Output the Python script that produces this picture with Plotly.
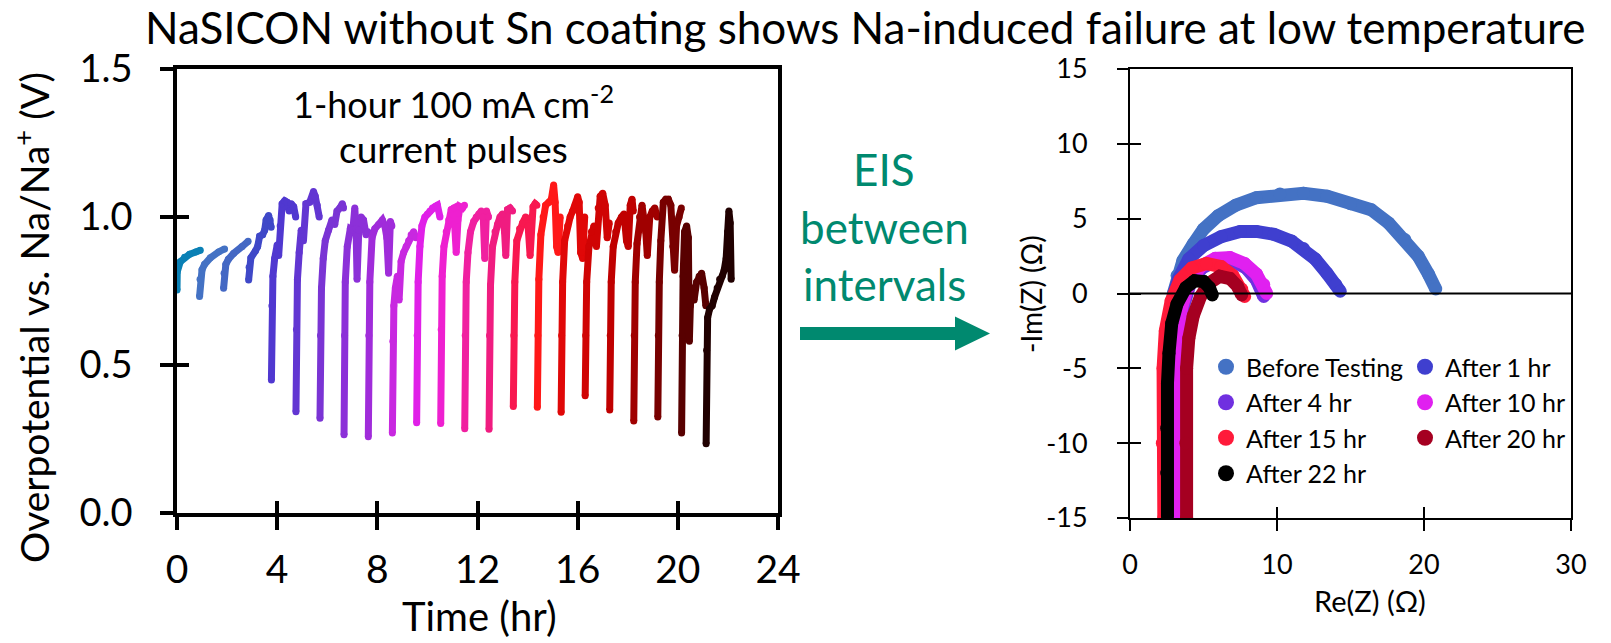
import plotly.graph_objects as go

# ---------------- data: pulsed overpotential (left panel) ----------------
# one list per 1-hour current pulse: time in hours, overpotential in volts
pulse_time = [
    [0.0, 0.01, 0.13, 0.3, 0.5, 0.75, 0.93],
    [0.90, 0.92, 1.0, 1.1, 1.33, 1.66, 1.90],
    [1.86, 1.88, 1.95, 2.05, 2.26, 2.6, 2.84],
    [2.86, 2.88, 2.95, 3.13, 3.22, 3.3, 3.42, 3.5, 3.56, 3.66, 3.72, 3.76],
    [3.77, 3.79, 3.83, 3.9, 4.0, 4.06, 4.12, 4.2, 4.3, 4.4, 4.48, 4.56, 4.66, 4.74],
    [4.75, 4.77, 4.81, 4.88, 4.96, 5.05, 5.15, 5.3, 5.45, 5.52, 5.6, 5.68],
    [5.71, 5.73, 5.77, 5.84, 5.92, 6.05, 6.19, 6.3, 6.39, 6.5, 6.6, 6.65],
    [6.67, 6.69, 6.72, 6.8, 6.92, 7.02, 7.1, 7.15, 7.19, 7.26, 7.35, 7.45, 7.55, 7.62],
    [7.64, 7.66, 7.7, 7.79, 7.9, 8.05, 8.2, 8.3, 8.38, 8.45, 8.52, 8.58],
    [8.60, 8.62, 8.66, 8.72, 8.8, 8.87, 8.95, 9.05, 9.15, 9.25, 9.35, 9.45, 9.54],
    [9.57, 9.59, 9.63, 9.7, 9.78, 9.9, 10.0, 10.1, 10.2, 10.3, 10.4, 10.5],
    [10.53, 10.55, 10.59, 10.66, 10.75, 10.85, 10.95, 11.05, 11.15, 11.22, 11.3, 11.4, 11.48],
    [11.49, 11.51, 11.55, 11.62, 11.72, 11.85, 11.95, 12.05, 12.15, 12.23, 12.29, 12.36, 12.44],
    [12.46, 12.48, 12.52, 12.6, 12.7, 12.8, 12.9, 13.0, 13.08, 13.13, 13.2, 13.3, 13.4],
    [13.43, 13.45, 13.49, 13.57, 13.68, 13.8, 13.92, 14.02, 14.1, 14.15, 14.22, 14.3, 14.37],
    [14.39, 14.41, 14.45, 14.53, 14.62, 14.72, 14.85, 14.95, 15.04, 15.1, 15.16, 15.22, 15.3],
    [15.34, 15.36, 15.4, 15.48, 15.6, 15.7, 15.8, 15.9, 16.0, 16.06, 16.12, 16.2, 16.28],
    [16.30, 16.32, 16.36, 16.45, 16.55, 16.65, 16.75, 16.82, 16.9, 17.0, 17.1, 17.18, 17.26],
    [17.28, 17.30, 17.34, 17.42, 17.52, 17.62, 17.75, 17.85, 17.95, 18.02, 18.1, 18.17, 18.22],
    [18.24, 18.26, 18.3, 18.37, 18.47, 18.57, 18.65, 18.72, 18.78, 18.88, 18.98, 19.08, 19.18],
    [19.20, 19.22, 19.26, 19.32, 19.42, 19.52, 19.62, 19.72, 19.8, 19.87, 19.95, 20.05, 20.14],
    [20.15, 20.17, 20.21, 20.27, 20.35, 20.42, 20.46, 20.5, 20.57, 20.65, 20.75, 20.85, 20.95, 21.05, 21.12],
    [21.13, 21.15, 21.19, 21.27, 21.37, 21.47, 21.57, 21.67, 21.77, 21.85, 21.93, 21.99, 22.04, 22.09, 22.13],
]
pulse_voltage = [
    [0.753, 0.815, 0.849, 0.864, 0.874, 0.882, 0.888],
    [0.731, 0.79, 0.822, 0.84, 0.862, 0.882, 0.892],
    [0.759, 0.81, 0.84, 0.857, 0.877, 0.9, 0.918],
    [0.787, 0.83, 0.862, 0.885, 0.90, 0.935, 0.94, 0.955, 0.99, 1.005, 0.99, 0.965],
    [0.449, 0.70, 0.80, 0.86, 0.905, 0.87, 0.97, 1.045, 1.055, 1.05, 1.02, 1.045, 1.035, 1.0],
    [0.342, 0.62, 0.79, 0.88, 0.955, 0.92, 1.045, 1.05, 1.086, 1.07, 1.04, 1.0],
    [0.32, 0.60, 0.76, 0.86, 0.92, 0.955, 0.99, 0.975, 1.02, 1.03, 1.045, 1.03],
    [0.264, 0.6, 0.78, 0.9, 0.96, 0.955, 1.03, 0.96, 0.79, 0.955, 1.0, 0.99, 0.94, 0.95],
    [0.258, 0.6, 0.78, 0.93, 0.96, 0.975, 0.99, 0.97, 0.93, 0.81, 0.985, 0.97],
    [0.27, 0.58, 0.70, 0.76, 0.80, 0.72, 0.85, 0.88, 0.90, 0.92, 0.94, 0.95, 0.93],
    [0.305, 0.6, 0.78, 0.9, 0.97, 1.0, 1.01, 1.02, 1.03, 1.035, 1.04, 1.0],
    [0.302, 0.62, 0.8, 0.9, 0.95, 0.99, 1.025, 1.03, 0.88, 0.99, 1.035, 1.03, 1.04],
    [0.285, 0.6, 0.78, 0.88, 0.95, 0.985, 1.0, 1.01, 1.02, 1.0, 0.86, 1.02, 1.0],
    [0.283, 0.6, 0.77, 0.9, 0.95, 0.975, 1.0, 1.01, 0.95, 0.87, 1.025, 1.03, 1.02],
    [0.36, 0.6, 0.78, 0.92, 0.96, 0.98, 1.0, 0.97, 0.87, 1.0, 1.035, 1.045, 1.04],
    [0.357, 0.6, 0.79, 0.94, 1.0, 1.04, 1.05, 1.06, 1.108, 1.05, 0.9, 0.88, 1.0],
    [0.34, 0.6, 0.78, 0.92, 0.97, 1.0, 1.02, 1.04, 1.068, 1.05, 0.88, 0.86, 1.0],
    [0.396, 0.6, 0.78, 0.9, 0.95, 0.97, 0.9, 1.03, 1.07, 1.08, 1.04, 0.93, 0.98],
    [0.348, 0.6, 0.78, 0.9, 0.95, 0.98, 1.0, 1.01, 0.92, 0.9, 1.04, 1.06, 1.02],
    [0.311, 0.6, 0.78, 0.91, 1.0, 1.04, 0.99, 0.95, 0.87, 1.0, 1.02, 1.03, 1.0],
    [0.324, 0.6, 0.78, 0.92, 1.05, 1.06, 1.06, 1.04, 0.9, 0.82, 0.97, 1.0, 1.03],
    [0.27, 0.6, 0.8, 0.95, 0.97, 0.93, 0.58, 0.70, 0.76, 0.72, 0.78, 0.80, 0.81, 0.76, 0.70],
    [0.234, 0.55, 0.66, 0.69, 0.70, 0.73, 0.76, 0.79, 0.80, 0.82, 0.86, 0.95, 1.02, 0.98, 0.79],
]
pulse_colors = [
    "#0A80B5", "#4472C4", "#4468C4", "#3F48C8", "#5038D0", "#6236D2",
    "#7A34D4", "#8C30D8", "#A02CDA", "#C828E0", "#E020E8", "#EE20D0",
    "#F020A0", "#F01C80", "#F81850", "#FF1818", "#E00808", "#D00404",
    "#C00000", "#A00000", "#780000", "#580000", "#200000",
]
time_ticks = [0, 4, 8, 12, 16, 20, 24]
volt_ticks = [0.0, 0.5, 1.0, 1.5]

# ---------------- data: impedance spectra (right panel) ----------------
eis_labels = ["Before Testing", "After 1 hr", "After 4 hr", "After 10 hr",
              "After 15 hr", "After 20 hr", "After 22 hr"]
eis_colors = ["#4472C4", "#3F3FCF", "#7030E0", "#E020F0", "#FF1A3A", "#A50021", "#000000"]
eis_re = [
    [2.75, 2.7, 2.72, 2.8, 2.95, 3.2, 3.6, 4.3, 5.0, 6.0, 7.2, 8.6, 10.2, 11.8, 13.4, 15.0, 16.4, 17.6, 18.7, 19.6, 20.3, 20.8],
    [2.8, 2.75, 2.78, 2.85, 3.0, 3.3, 4.0, 5.0, 6.2, 7.5, 8.6, 9.8, 11.0, 11.8, 12.6, 13.4, 14.0, 14.3],
    [3.2, 3.15, 3.2, 3.3, 3.6, 4.1, 4.9, 5.9, 6.9, 7.9, 8.6, 9.0, 9.1],
    [3.1, 3.05, 3.1, 3.2, 3.5, 4.0, 4.8, 5.8, 6.8, 7.8, 8.6, 9.1, 9.3],
    [2.3, 2.2, 2.25, 2.4, 2.8, 3.4, 4.2, 5.2, 6.2, 7.0, 7.6, 7.8],
    [3.85, 3.8, 3.85, 4.0, 4.3, 4.8, 5.4, 6.1, 6.8, 7.3, 7.6],
    [2.55, 2.5, 2.5, 2.55, 2.65, 2.84, 3.2, 3.8, 4.4, 5.0, 5.4, 5.6],
]
eis_im = [
    [-15, -10, -5, -2, 0.0, 1.2, 2.2, 3.3, 4.3, 5.2, 5.9, 6.4, 6.65, 6.7, 6.5, 6.0, 5.6, 4.7, 3.6, 2.5, 1.3, 0.3],
    [-15, -10, -5, -2, 0.0, 1.0, 2.3, 3.2, 3.8, 4.15, 4.15, 3.95, 3.5, 3.0, 2.3, 1.35, 0.6, 0.15],
    [-15, -10, -5, -3, -1, 0.7, 1.7, 2.2, 2.2, 1.7, 0.9, 0.1, -0.2],
    [-15, -10, -5, -3, -1, 0.7, 1.8, 2.35, 2.4, 2.0, 1.3, 0.6, 0.0],
    [-15, -10, -5, -2.5, -0.5, 0.9, 1.7, 2.0, 1.8, 1.2, 0.3, -0.2],
    [-15, -10, -5, -3, -1.5, -0.2, 0.7, 1.15, 1.0, 0.5, -0.1],
    [-14.9, -12, -9, -6, -4, -2.0, -0.7, 0.4, 0.85, 0.8, 0.4, -0.1],
]
re_ticks = [0, 10, 20, 30]
im_ticks = [-15, -10, -5, 0, 5, 10, 15]

# ---------------- layout helpers (figure is 1611 x 643 px, no margins) ----------------
W, H = 1611, 643
FONT = "Lato"
TEAL = "#00896F"


def fx(x):
    return x / W


def fy(y):
    return 1 - y / H


fig = go.Figure()

for t, v, c in zip(pulse_time, pulse_voltage, pulse_colors):
    fig.add_trace(go.Scatter(
        x=t, y=v, mode="lines+markers", xaxis="x", yaxis="y",
        line=dict(color=c, width=7), marker=dict(color=c, size=7),
        showlegend=False, hoverinfo="skip"))

for re, im, c in zip(eis_re, eis_im, eis_colors):
    fig.add_trace(go.Scatter(
        x=re, y=im, mode="lines+markers", xaxis="x2", yaxis="y2",
        line=dict(color=c, width=13), marker=dict(color=c, size=13),
        showlegend=False, hoverinfo="skip"))

# legend entries: two columns (legend / legend2)
for i, (name, c) in enumerate(zip(eis_labels, eis_colors)):
    fig.add_trace(go.Scatter(
        x=[None], y=[None], mode="markers", xaxis="x2", yaxis="y2", name=name,
        marker=dict(color=c, size=16), legend="legend" if i % 2 == 0 else "legend2"))

# carriers for the inward half of the crossing tick marks
fig.add_trace(go.Scatter(x=[None], y=[None], xaxis="x3", yaxis="y3", showlegend=False))
fig.add_trace(go.Scatter(x=[None], y=[None], xaxis="x4", yaxis="y4", showlegend=False))

L_DOM_X = [fx(177), fx(778)]
L_DOM_Y = [fy(513), fy(69)]
R_DOM_X = [fx(1130), fx(1571)]
R_DOM_Y = [fy(518), fy(69)]

base = dict(showgrid=False, zeroline=False, automargin=False, linecolor="black",
            tickcolor="black")

fig.update_layout(
    width=W, height=H, margin=dict(l=0, r=0, t=0, b=0),
    paper_bgcolor="white", plot_bgcolor="white", template="none",
    font=dict(family=FONT, color="black"),
    xaxis=dict(base, domain=L_DOM_X, range=[0, 24], tickvals=time_ticks, anchor="y",
               showline=True, mirror=True, linewidth=3.5, ticks="outside", ticklen=13,
               tickwidth=3.5, tickfont=dict(size=39), ticklabelstandoff=6),
    yaxis=dict(base, domain=L_DOM_Y, range=[0, 1.5], tickvals=volt_ticks, tickformat=".1f",
               anchor="x", showline=True, mirror=True, linewidth=3.5, ticks="outside",
               ticklen=13, tickwidth=3.5, tickfont=dict(size=38), ticklabelstandoff=20),
    xaxis3=dict(base, overlaying="x", anchor="y", range=[0, 24], tickvals=time_ticks,
                showline=False, ticks="inside", ticklen=12, tickwidth=3.5,
                showticklabels=False),
    yaxis3=dict(base, overlaying="y", anchor="x", range=[0, 1.5], tickvals=volt_ticks,
                showline=False, ticks="inside", ticklen=12, tickwidth=3.5,
                showticklabels=False),
    xaxis2=dict(base, domain=R_DOM_X, range=[0, 30], tickvals=re_ticks,
                ticktext=[str(v) for v in re_ticks], anchor="y2",
                showline=True, mirror=True, linewidth=2, ticks="outside", ticklen=11,
                tickwidth=2, tickfont=dict(size=27), ticklabelstandoff=11),
    yaxis2=dict(base, domain=R_DOM_Y, range=[-15, 15], tickvals=im_ticks,
                ticktext=[str(v) for v in im_ticks], anchor="x2",
                showline=True, mirror=True, linewidth=2, ticks="outside", ticklen=11,
                tickwidth=2, tickfont=dict(size=27), ticklabelstandoff=24),
    xaxis4=dict(base, overlaying="x2", anchor="y2", range=[0, 30], tickvals=re_ticks,
                showline=False, ticks="inside", ticklen=11, tickwidth=2,
                showticklabels=False),
    yaxis4=dict(base, overlaying="y2", anchor="x2", range=[-15, 15], tickvals=im_ticks,
                showline=False, ticks="inside", ticklen=11, tickwidth=2,
                showticklabels=False),
    legend=dict(x=fx(1206), y=fy(344), xanchor="left", yanchor="top",
                bgcolor="rgba(0,0,0,0)", font=dict(size=25), itemwidth=30),
    legend2=dict(x=fx(1405), y=fy(344), xanchor="left", yanchor="top",
                 bgcolor="rgba(0,0,0,0)", font=dict(size=25), itemwidth=30),
    showlegend=True,
)

# horizontal zero line of the Nyquist plot and the teal arrow
fig.add_shape(type="line", xref="x2 domain", x0=0, x1=1, yref="y2", y0=0, y1=0,
              line=dict(color="black", width=2), layer="above")
fig.add_shape(type="rect", xref="paper", yref="paper",
              x0=fx(800), x1=fx(957), y0=fy(340), y1=fy(327),
              fillcolor=TEAL, line=dict(width=0))
fig.add_shape(type="path", xref="paper", yref="paper",
              path=f"M {fx(955)} {fy(316.5)} L {fx(990)} {fy(333.5)} L {fx(955)} {fy(350.5)} Z",
              fillcolor=TEAL, line=dict(width=0))

ann = [
    dict(text="NaSICON without Sn coating shows Na-induced failure at low temperature",
         x=fx(865), y=fy(27), font=dict(size=44)),
    dict(text="1-hour 100 mA cm<sup>-2</sup>", x=fx(454), y=fy(102), font=dict(size=36)),
    dict(text="current pulses", x=fx(454), y=fy(148), font=dict(size=37)),
    dict(text="Overpotential vs. Na/Na<sup>+</sup> (V)", x=fx(31), y=fy(318),
         textangle=-90, font=dict(size=39)),
    dict(text="Time (hr)", x=fx(479), y=fy(616), font=dict(size=40)),
    dict(text="EIS", x=fx(884), y=fy(169), font=dict(size=44, color=TEAL)),
    dict(text="between", x=fx(884), y=fy(227), font=dict(size=44, color=TEAL)),
    dict(text="intervals", x=fx(884), y=fy(284), font=dict(size=44, color=TEAL)),
    dict(text="-Im(Z) (\u03a9)", x=fx(1031), y=fy(294), textangle=-90, font=dict(size=28)),
    dict(text="Re(Z) (\u03a9)", x=fx(1370), y=fy(600), font=dict(size=29)),
]
for a in ann:
    fig.add_annotation(xref="paper", yref="paper", showarrow=False,
                       xanchor="center", yanchor="middle", **a)

fig.write_html("out.html")
